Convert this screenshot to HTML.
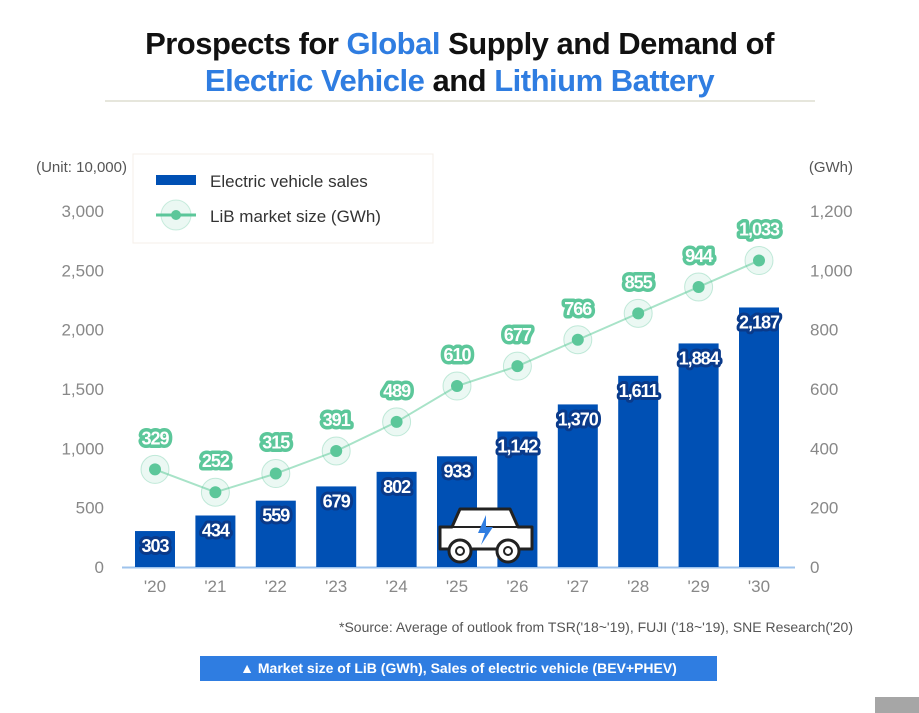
<!DOCTYPE html>
<html><head><meta charset="utf-8"><style>
body{margin:0;width:919px;height:713px;background:#fff;overflow:hidden;font-family:"Liberation Sans",sans-serif;position:relative}
.t{position:absolute;left:0;width:919px;text-align:center;font-weight:900;font-size:31px;color:#111;letter-spacing:-0.5px}
.b{color:#2f7de1}
</style></head><body>
<div class="t" style="top:26px">Prospects for <span class="b">Global</span> Supply and Demand of</div>
<div class="t" style="top:63px"><span class="b">Electric Vehicle</span> and <span class="b">Lithium Battery</span></div>
<div style="position:absolute;left:105px;top:100px;width:710px;height:2px;background:#e6e6dc"></div>
<svg id="c" width="919" height="713" style="position:absolute;left:0;top:0"></svg>
<div style="position:absolute;right:66px;top:619px;font-size:14px;color:#555">*Source: Average of outlook from TSR('18~'19), FUJI ('18~'19), SNE Research('20)</div>
<div style="position:absolute;left:200px;top:656px;width:517px;height:25px;background:#2f7de1;color:#fff;font-size:14px;font-weight:bold;text-align:center;line-height:25px">▲ Market size of LiB (GWh), Sales of electric vehicle (BEV+PHEV)</div>
<div style="position:absolute;left:875px;top:697px;width:44px;height:16px;background:#a6a6a6"></div>
<script>
const categories=["'20","'21","'22","'23","'24","'25","'26","'27","'28","'29","'30"];
const evSales=[303,434,559,679,802,933,1142,1370,1611,1884,2187];
const libSize=[329,252,315,391,489,610,677,766,855,944,1033];
const leftTicks=[0,500,1000,1500,2000,2500,3000];
const rightTicks=[0,200,400,600,800,1000,1200];
const NS="http://www.w3.org/2000/svg";
const svg=document.getElementById('c');
const y0=567,yT=211;
const yL=v=>y0-(v/3000)*(y0-yT);
const yR=v=>y0-(v/1200)*(y0-yT);
const x=i=>155+i*60.4;
function mk(t,a,p){const e=document.createElementNS(NS,t);for(const k in a)e.setAttribute(k,a[k]);(p||svg).appendChild(e);return e;}
const fmt=v=>v.toLocaleString('en-US');
let t=mk('text',{x:127,y:172,'text-anchor':'end','font-size':15,fill:'#555'});t.textContent='(Unit: 10,000)';

t=mk('text',{x:853,y:172,'text-anchor':'end','font-size':15,fill:'#555'});t.textContent='(GWh)';

leftTicks.forEach(v=>{const e=mk('text',{x:104,y:yL(v)+6,'text-anchor':'end','font-size':17,fill:'#888'});e.textContent=fmt(v);
});
rightTicks.forEach(v=>{const e=mk('text',{x:810,y:yR(v)+6,'font-size':17,fill:'#888'});e.textContent=fmt(v);
});
const lg=mk('g',{});
mk('rect',{x:133,y:154,width:300,height:89,fill:'#fff',stroke:'#f5efe8'},lg);
mk('rect',{x:156,y:175,width:40,height:10,fill:'#0050b4'},lg);
let e=mk('text',{x:210,y:187,'font-size':17,fill:'#333'},lg);e.textContent='Electric vehicle sales';
mk('line',{x1:156,x2:196,y1:215,y2:215,stroke:'#5cc79a','stroke-width':3},lg);
mk('circle',{cx:176,cy:215,r:15,fill:'#5cc79a','fill-opacity':0.12,stroke:'#5cc79a','stroke-opacity':0.3},lg);
mk('circle',{cx:176,cy:215,r:5,fill:'#5cc79a'},lg);
e=mk('text',{x:210,y:222,'font-size':17,fill:'#333'},lg);e.textContent='LiB market size (GWh)';
mk('line',{x1:122,x2:795,y1:y0+0.5,y2:y0+0.5,stroke:'#9ec3ec','stroke-width':2});
evSales.forEach((v,i)=>{const r=mk('rect',{x:x(i)-20,y:yL(v),width:40,height:y0-yL(v),fill:'#0050b4'});
});
categories.forEach((c,i)=>{const e=mk('text',{x:x(i),y:592,'text-anchor':'middle','font-size':17,fill:'#888'});e.textContent=c;
});
const car=mk('g',{transform:'translate(438,507)'});
mk('path',{d:'M2,20 L2,42 L94,42 L94,20 L80,20 L72,2 L22,2 L14,20 Z',fill:'#fff',stroke:'#222','stroke-width':3,'stroke-linejoin':'round'},car);
mk('line',{x1:2,x2:94,y1:20,y2:20,stroke:'#222','stroke-width':2},car);
mk('path',{d:'M48,8 L40,26 L47,26 L43,38 L55,20 L48,20 Z',fill:'#2f7de1'},car);
[22,70].forEach(cx=>{mk('circle',{cx:cx,cy:44,r:11,fill:'#fff',stroke:'#222','stroke-width':3},car);mk('circle',{cx:cx,cy:44,r:4,fill:'#fff',stroke:'#222','stroke-width':2},car);});
mk('polyline',{points:libSize.map((v,i)=>x(i)+','+yR(v)).join(' '),fill:'none',stroke:'#a8e3c8','stroke-width':2});
libSize.forEach((v,i)=>{mk('circle',{cx:x(i),cy:yR(v),r:14,fill:'#5cc79a','fill-opacity':0.12,stroke:'#5cc79a','stroke-opacity':0.35});
const p=mk('circle',{cx:x(i),cy:yR(v),r:6,fill:'#5cc79a'});
const e=mk('text',{x:x(i),y:yR(v)-25,'text-anchor':'middle','font-size':18,'font-weight':'bold',fill:'#fff',stroke:'#5cc79a','stroke-width':7,'paint-order':'stroke','stroke-linejoin':'round','letter-spacing':'-1'});e.textContent=fmt(v);
});
evSales.forEach((v,i)=>{const e=mk('text',{x:x(i),y:yL(v)+21,'text-anchor':'middle','font-size':18,'font-weight':'bold',fill:'#fff',stroke:'#0a3a8a','stroke-width':6,'paint-order':'stroke','stroke-linejoin':'round','letter-spacing':'-1'});e.textContent=fmt(v);
});
</script>
</body></html>
